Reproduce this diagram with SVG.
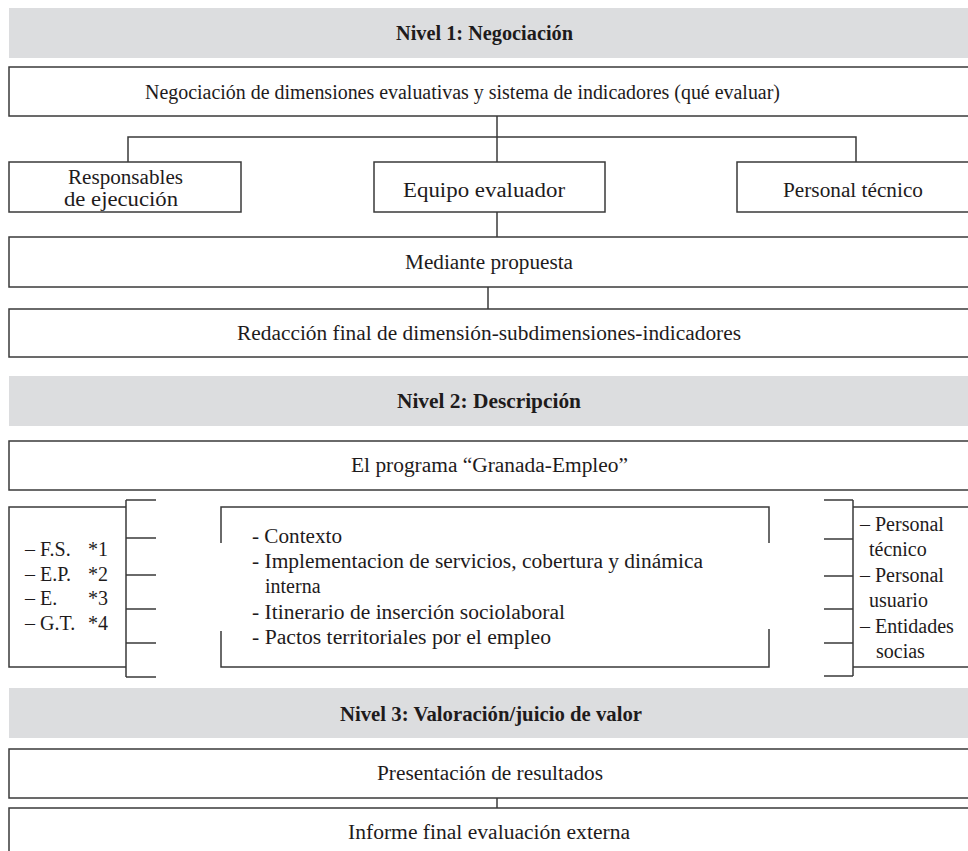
<svg xmlns="http://www.w3.org/2000/svg" width="968" height="851" viewBox="0 0 968 851" font-family="'Liberation Serif', 'Times New Roman', serif">
<style>
  .banner { fill: #dcdddf; stroke: none; }
  .box { fill: #ffffff; stroke: #3a3a3a; stroke-width: 1.5; }
  .ln { fill: none; stroke: #3a3a3a; stroke-width: 1.5; }
  text { font-family: "Liberation Serif", "Times New Roman", serif; font-size: 20px; fill: #1e1b1c; }
  .b { font-weight: bold; }
</style>
<rect width="968" height="851" fill="#ffffff"/>

<g id="nivel1">
  <rect class="banner" x="9" y="8" width="970" height="50"/>
  <text class="b" x="396" y="40" textLength="177" lengthAdjust="spacingAndGlyphs">Nivel 1: Negociación</text>
</g>
<g id="negociacion">
  <rect class="box" x="9" y="67" width="975" height="49"/>
  <text x="145" y="99" textLength="635" lengthAdjust="spacingAndGlyphs">Negociación de dimensiones evaluativas y sistema de indicadores (qué evaluar)</text>
</g>
<g id="responsables">
  <rect class="box" x="9" y="162" width="232" height="50"/>
  <text x="68" y="184" textLength="115" lengthAdjust="spacingAndGlyphs">Responsables</text>
  <text x="64" y="206" textLength="114" lengthAdjust="spacingAndGlyphs">de ejecución</text>
</g>
<g id="equipo">
  <rect class="box" x="374" y="162" width="231" height="50"/>
  <text x="403" y="197" textLength="162" lengthAdjust="spacingAndGlyphs">Equipo evaluador</text>
</g>
<g id="personal">
  <rect class="box" x="737" y="162" width="250" height="50"/>
  <text x="783" y="197" textLength="140" lengthAdjust="spacingAndGlyphs">Personal técnico</text>
</g>
<g id="mediante">
  <rect class="box" x="9" y="237" width="975" height="50"/>
  <text x="405" y="269" textLength="168" lengthAdjust="spacingAndGlyphs">Mediante propuesta</text>
</g>
<g id="redaccion">
  <rect class="box" x="9" y="309" width="975" height="48"/>
  <text x="237" y="340" textLength="504" lengthAdjust="spacingAndGlyphs">Redacción final de dimensión-subdimensiones-indicadores</text>
</g>

<g id="nivel2">
  <rect class="banner" x="9" y="376" width="970" height="50"/>
  <text class="b" x="397" y="408" textLength="184" lengthAdjust="spacingAndGlyphs">Nivel 2: Descripción</text>
</g>
<g id="programa">
  <rect class="box" x="9" y="441" width="975" height="49"/>
  <text x="351" y="472" textLength="277" lengthAdjust="spacingAndGlyphs">El programa “Granada-Empleo”</text>
</g>
<g id="fuentes">
  <path class="ln" d="M126,507 H9 V667 H126"/>
  <text x="25" y="556">– F.S.</text><text x="88" y="556">*1</text>
  <text x="25" y="581">– E.P.</text><text x="88" y="581">*2</text>
  <text x="25" y="605">– E.</text><text x="88" y="605">*3</text>
  <text x="25" y="630">– G.T.</text><text x="88" y="630">*4</text>
</g>
<g id="dimensiones">
  <path class="ln" d="M221,543 V507 H769 V543"/>
  <path class="ln" d="M221,631 V667 H769 V629"/>
  <text x="252" y="543" textLength="90" lengthAdjust="spacingAndGlyphs">- Contexto</text>
  <text x="252" y="568" textLength="451" lengthAdjust="spacingAndGlyphs">- Implementacion de servicios, cobertura y dinámica</text>
  <text x="265" y="593">interna</text>
  <text x="252" y="619" textLength="313" lengthAdjust="spacingAndGlyphs">- Itinerario de inserción sociolaboral</text>
  <text x="252" y="644" textLength="299" lengthAdjust="spacingAndGlyphs">- Pactos territoriales por el empleo</text>
</g>
<g id="agentes">
  <path class="ln" d="M853,507 H985 M853,667 H985"/>
  <text x="860" y="531">– Personal</text>
  <text x="869" y="556">técnico</text>
  <text x="860" y="582">– Personal</text>
  <text x="869" y="607">usuario</text>
  <text x="860" y="633">– Entidades</text>
  <text x="876" y="658">socias</text>
</g>

<g id="nivel3">
  <rect class="banner" x="9" y="688" width="970" height="50"/>
  <text class="b" x="340" y="721" textLength="302" lengthAdjust="spacingAndGlyphs">Nivel 3: Valoración/juicio de valor</text>
</g>
<g id="presentacion">
  <rect class="box" x="9" y="749" width="975" height="49"/>
  <text x="377" y="780" textLength="226" lengthAdjust="spacingAndGlyphs">Presentación de resultados</text>
</g>
<g id="informe">
  <rect class="box" x="9" y="808" width="975" height="60"/>
  <text x="348" y="839" textLength="282" lengthAdjust="spacingAndGlyphs">Informe final evaluación externa</text>
</g>

<g id="connectors">
  <path class="ln" d="M497,116 V162"/>
  <path class="ln" d="M128,162 V137 H856 V162"/>
  <path class="ln" d="M497,212 V237"/>
  <path class="ln" d="M488,287 V309"/>
  <path class="ln" d="M126,500 V677 M126,500 H156 M126,538 H156 M126,575 H156 M126,609 H156 M126,643 H156 M126,677 H156"/>
  <path class="ln" d="M853,500 V676 M824,500 H853 M824,539 H853 M824,576 H853 M824,609 H853 M824,643 H853 M824,676 H853"/>
  <path class="ln" d="M497,798 V808"/>
</g>
</svg>
